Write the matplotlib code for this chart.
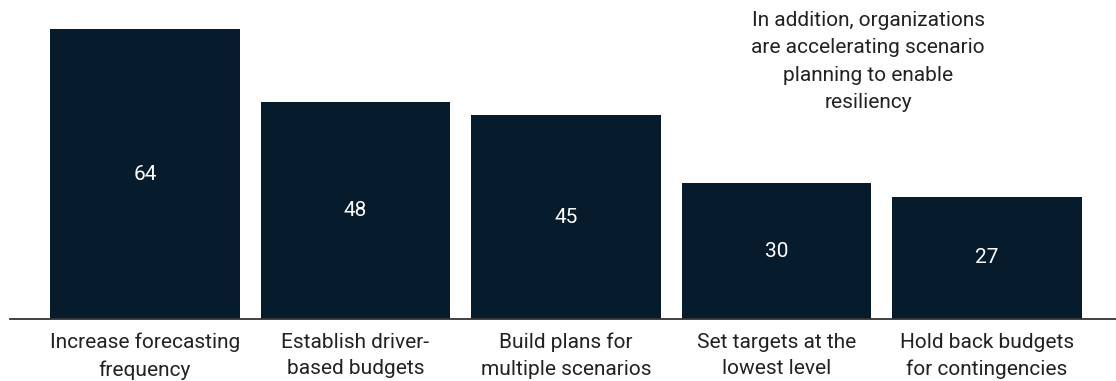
import matplotlib.pyplot as plt

categories = ['Increase forecasting\nfrequency', 'Establish driver-\nbased budgets',
              'Build plans for\nmultiple scenarios', 'Set targets at the\nlowest level',
              'Hold back budgets\nfor contingencies']
values = [64, 48, 45, 30, 27]
note = 'In addition, organizations\nare accelerating scenario\nplanning to enable\nresiliency'

plt.rcParams['font.family'] = ['Roboto', 'DejaVu Sans']
navy = '#061c2c'
fs = 15

fig = plt.figure(figsize=(11.16, 3.81), dpi=100)
ax = fig.add_axes([10 / 1116, 62 / 381, 1106 / 1116, 319 / 381])

x = list(range(len(values)))
ax.bar(x, values, width=0.9, color=navy, zorder=2)

for xi, v in zip(x, values):
    ax.text(xi, v / 2, str(v), ha='center', va='center', color='white', fontsize=fs)

ax.set_xlim(-0.641, 4.613)
ax.set_ylim(0, 70.5)
ax.set_xticks(x)
ax.set_xticklabels(categories, fontsize=fs, color='#222222', linespacing=1.5)
ax.tick_params(axis='x', length=0, pad=10)
ax.set_yticks([])
for side in ['top', 'left', 'right']:
    ax.spines[side].set_visible(False)
ax.spines['bottom'].set_color('#333333')
ax.spines['bottom'].set_linewidth(1.3)
ax.patch.set_alpha(0)

fig.text(868 / 1116, 1 - 11 / 381, note, ha='center', va='top', fontsize=fs,
         color='#222222', linespacing=1.56)

fig.savefig('out.png', dpi=100)
